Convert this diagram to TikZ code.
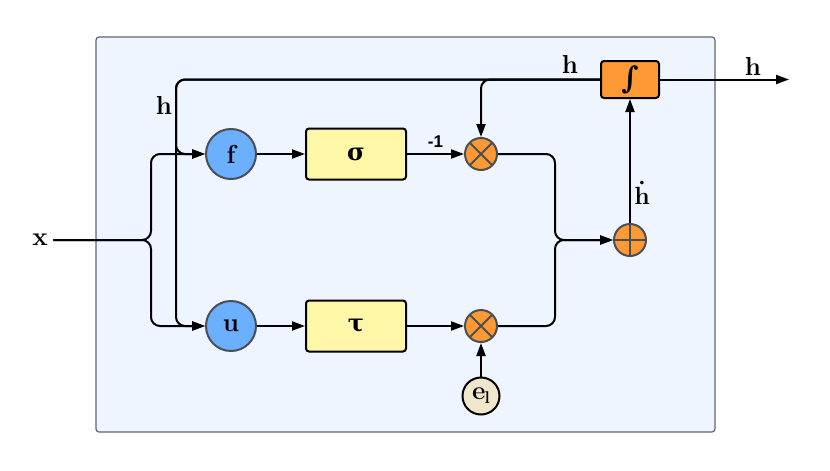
\documentclass[tikz,border=0pt]{standalone}
\usepackage{amsmath}
\usepackage{fontspec}
\newfontfamily\labelsans{Liberation Sans}
\newfontfamily\greekserif{DejaVu Serif}
\usetikzlibrary{positioning, arrows.meta, calc}
\definecolor{panelblue}{HTML}{EEF5FE}
\definecolor{panelgray}{HTML}{5F6670}
\definecolor{gateblue}{HTML}{6BAFFF}
\definecolor{ringgray}{HTML}{4A4F57}
\definecolor{boxyellow}{HTML}{FFF7A8}
\definecolor{oporange}{HTML}{FF9933}
\definecolor{srcbeige}{HTML}{EFE6CB}
\tikzset{
  lbl/.style={font=\fontsize{26}{28}\selectfont\bfseries\boldmath},
  wire/.style={line width=2pt, rounded corners=9pt},
  arr/.style={-{Triangle[length=13pt,width=9pt]}},
  gate/.style={circle, draw=ringgray, line width=2pt, fill=gateblue, minimum size=50pt, inner sep=0pt, lbl},
  block/.style={rectangle, rounded corners=3pt, draw=black, line width=2pt, fill=boxyellow, minimum width=100pt, minimum height=51pt, font=\greekserif\fontsize{24}{26}\selectfont\bfseries},
  mult/.style={circle, draw=ringgray, line width=2pt, fill=oporange, minimum size=32pt, inner sep=0pt,
    path picture={\draw[ringgray, line width=2pt] (path picture bounding box.north west) -- (path picture bounding box.south east)
      (path picture bounding box.north east) -- (path picture bounding box.south west);}},
  adder/.style={circle, draw=ringgray, line width=2pt, fill=oporange, minimum size=32pt, inner sep=0pt,
    path picture={\draw[ringgray, line width=2pt] (path picture bounding box.north) -- (path picture bounding box.south)
      (path picture bounding box.west) -- (path picture bounding box.east);}},
}
\begin{document}
\begin{tikzpicture}[x=1pt, y=-1pt]
    \useasboundingbox (0,0) rectangle (830,471);
    % panel
    \draw[panelgray, fill=panelblue, line width=1.2pt, rounded corners=3pt] (96,37) rectangle (715,432);

    % nodes
    \node[lbl] (xin) at (40,240) {x};
    \node[gate] (fnode) at (231,154) {f};
    \node[gate] (unode) at (231,326) {u};
    \node[block, right=48pt of fnode] (sig) {σ};
    \node[block, right=48pt of unode] (tau) {τ};
    \node[mult] (mulA) at (481,154) {};
    \node[mult] (mulB) at (481,326) {};
    \node[circle, draw=black, line width=2pt, fill=srcbeige, minimum size=37pt, inner sep=0pt, lbl] (elnode) at (481,396) {e\kern-1pt\raisebox{-4pt}{\fontsize{17}{18}\selectfont l}};
    \node[adder] (sumnode) at (630,240) {};
    \node[rectangle, rounded corners=3pt, draw=black, line width=2pt, fill=oporange, minimum width=58pt, minimum height=37pt, inner sep=0pt, font=\greekserif\fontsize{30}{30}\selectfont\bfseries] (intbox) at (630,79.5) {∫};
    \coordinate (hout) at (789,79.5);
    \node[lbl] (hleft) at (164,105) {h};
    \node[lbl] (htop) at (570,64) {h};

    % input split
    \draw[wire, arr, shorten <=2pt] (xin.east) -- (151,240) |- (fnode.west);
    \draw[wire, arr, shorten <=2pt] (xin.east) -- (151,240) |- (unode.west);

    % feedback of h
    \draw[wire, arr] (intbox.west) -| (176,154) -- (fnode.west);
    \draw[wire, arr] (intbox.west) -| (176,326) -- (unode.west);
    \draw[wire, arr] (intbox.west) -| (mulA.north);

    % rows
    \draw[wire, arr] (fnode) -- (sig);
    \draw[wire, arr] (unode) -- (tau);
    \draw[wire, arr] (sig) -- node[midway, above=2pt, font=\labelsans\fontsize{17}{19}\selectfont\bfseries] {-1} (mulA);
    \draw[wire, arr] (tau) -- (mulB);
    \draw[wire, arr] (elnode) -- (mulB);

    % sum and integrate
    \draw[wire, arr] (mulA.east) -| (555,240) -- (sumnode.west);
    \draw[wire, arr] (mulB.east) -| (555,240) -- (sumnode.west);
    \draw[wire, arr] (sumnode) -- node[pos=0.24, right=0pt, lbl] {$\dot{\mathbf{h}}$} (intbox);
    \draw[wire, arr] (intbox) -- node[pos=0.72, above=0pt, lbl] {h} (hout);
\end{tikzpicture}
\end{document}
